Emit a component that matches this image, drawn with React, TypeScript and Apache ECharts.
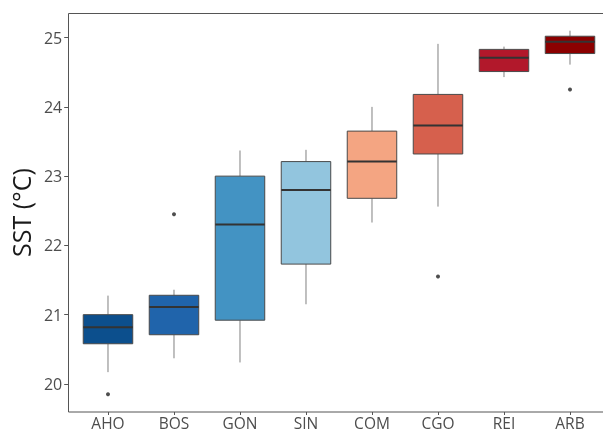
import React, { useEffect, useRef } from "react";
import * as echarts from "echarts";

const categories = ["AHO", "BOS", "GON", "SIN", "COM", "CGO", "REI", "ARB"];
const lowerWhisker = [20.17, 20.37, 20.31, 21.15, 22.33, 22.56, 24.43, 24.61];
const q1 = [20.58, 20.71, 20.92, 21.73, 22.68, 23.32, 24.51, 24.77];
const median = [20.82, 21.11, 22.3, 22.8, 23.21, 23.73, 24.71, 24.94];
const q3 = [21.0, 21.28, 23.0, 23.21, 23.65, 24.18, 24.83, 25.02];
const upperWhisker = [21.275, 21.36, 23.37, 23.38, 24.0, 24.91, 24.87, 25.1];
const outlierCats = ["AHO", "BOS", "CGO", "ARB"];
const outlierValues = [19.85, 22.45, 21.55, 24.25];
const boxColors = ["#0c4f8d", "#2064ab", "#4393c3", "#92c5de", "#f4a582", "#d6604d", "#b2182b", "#8b0000"];
const yTicks = [20, 21, 22, 23, 24, 25];

export default function App() {
  const ref = useRef<HTMLDivElement>(null);
  useEffect(() => {
    if (!ref.current) return;
    const chart = echarts.init(ref.current, null, { renderer: "svg" });
    const boxData = categories.map((_, i) => [i, lowerWhisker[i], q1[i], median[i], q3[i], upperWhisker[i]]);
    const font = "'Open Sans', 'Noto Sans', sans-serif";
    chart.setOption({
      animation: false,
      grid: { left: 74.8, top: 13, width: 531.2, height: 399 },
      xAxis: {
        type: "category",
        data: categories,
        axisLine: { show: false },
        axisTick: { show: true, alignWithLabel: true, length: 3, lineStyle: { color: "#555" } },
        axisLabel: { color: "#4d4d4d", fontSize: 15.5, lineHeight: 14, fontFamily: font, margin: 4 },
      },
      yAxis: {
        type: "value",
        min: 19.5946,
        max: 25.3554,
        offset: 6.8,
        splitLine: { show: false },
        axisLine: { show: false },
        axisTick: { show: true, length: 4, lineStyle: { color: "#555" }, customValues: yTicks },
        axisLabel: { color: "#4d4d4d", fontSize: 16, fontFamily: font, margin: 6, customValues: yTicks },
        name: "SST (°C)",
        nameLocation: "middle",
        nameGap: 26,
        nameTextStyle: { color: "#1a1a1a", fontSize: 25, fontFamily: font },
      },
      graphic: [
        {
          type: "rect",
          shape: { x: 68.5, y: 13.5, width: 545, height: 398.5 },
          style: { fill: "none", stroke: "#555", lineWidth: 1 },
          silent: true,
          z: 100,
        },
      ],
      series: [
        {
          type: "custom",
          data: boxData,
          encode: { x: 0, y: [1, 2, 3, 4, 5] },
          renderItem: (params: any, api: any) => {
            const x = api.value(0);
            const pLo = api.coord([x, api.value(1)]);
            const pQ1 = api.coord([x, api.value(2)]);
            const pMed = api.coord([x, api.value(3)]);
            const pQ3 = api.coord([x, api.value(4)]);
            const pHi = api.coord([x, api.value(5)]);
            const band = api.size([1, 0])[0];
            const w = band * 0.75;
            const cx = pMed[0];
            return {
              type: "group",
              children: [
                { type: "line", shape: { x1: cx, y1: pLo[1], x2: cx, y2: pQ1[1] }, style: { stroke: "#808080", lineWidth: 1 } },
                { type: "line", shape: { x1: cx, y1: pQ3[1], x2: cx, y2: pHi[1] }, style: { stroke: "#808080", lineWidth: 1 } },
                {
                  type: "rect",
                  shape: { x: cx - w / 2, y: pQ3[1], width: w, height: pQ1[1] - pQ3[1] },
                  style: { fill: boxColors[params.dataIndex], stroke: "#4a4a4a", lineWidth: 1 },
                },
                { type: "line", shape: { x1: cx - w / 2, y1: pMed[1], x2: cx + w / 2, y2: pMed[1] }, style: { stroke: "#333", lineWidth: 2 } },
              ],
            };
          },
        },
        {
          type: "scatter",
          data: outlierCats.map((c, i) => [c, outlierValues[i]]),
          symbolSize: 4,
          itemStyle: { color: "#222" },
        },
      ],
    });
    return () => chart.dispose();
  }, []);
  return <div ref={ref} style={{ position: "fixed", left: 0, top: 0, width: 603, height: 433 }} />;
}
